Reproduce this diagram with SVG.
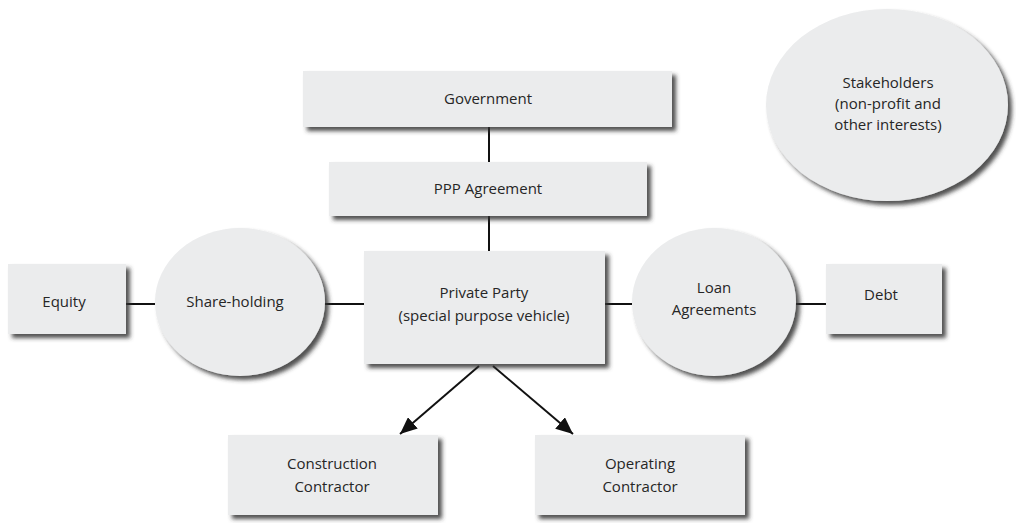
<svg xmlns="http://www.w3.org/2000/svg" width="1016" height="523" viewBox="0 0 1016 523">
<defs>
<filter id="sh" x="-10%" y="-10%" width="125%" height="130%">
<feDropShadow dx="4" dy="4" stdDeviation="2.2" flood-color="#333" flood-opacity="0.85"/>
</filter>
<marker id="ah" viewBox="0 0 17 15" refX="17" refY="7.5" markerWidth="17" markerHeight="15" markerUnits="userSpaceOnUse" orient="auto">
<path d="M0,0 L17,7.5 L0,15 z" fill="#111"/>
</marker>
</defs>
<style>
.n{fill:#ebeced;filter:url(#sh)}
.t{font-family:"Open Sans","Noto Sans","Liberation Sans",sans-serif;font-size:15px;fill:#262626;text-anchor:middle}
.c{stroke:#111;stroke-width:2;fill:none}
</style>
<rect width="1016" height="523" fill="#fff"/>
<g id="connectors">
<line class="c" x1="489" y1="127" x2="489" y2="162"/>
<line class="c" x1="489" y1="216" x2="489" y2="251"/>
<line class="c" x1="126" y1="304" x2="155" y2="304"/>
<line class="c" x1="324" y1="304" x2="364" y2="304"/>
<line class="c" x1="605" y1="304" x2="632" y2="304"/>
<line class="c" x1="796" y1="304" x2="826" y2="304"/>
<line class="c" x1="479" y1="366" x2="400" y2="434" marker-end="url(#ah)"/>
<line class="c" x1="493" y1="366" x2="573" y2="434" marker-end="url(#ah)"/>
</g>
<g id="government">
<rect class="n" x="303" y="71" width="369" height="56"/>
<text class="t" x="488" y="104">Government</text>
</g>
<g id="ppp-agreement">
<rect class="n" x="329" y="162" width="318" height="54"/>
<text class="t" x="488" y="194">PPP Agreement</text>
</g>
<g id="private-party">
<rect class="n" x="364" y="251" width="241" height="113"/>
<text class="t" x="484" y="298">Private Party</text>
<text class="t" x="484" y="321">(special purpose vehicle)</text>
</g>
<g id="equity">
<rect class="n" x="8" y="264" width="118" height="70"/>
<text class="t" x="64" y="307">Equity</text>
</g>
<g id="share-holding">
<ellipse class="n" cx="240" cy="302" rx="85" ry="74"/>
<text class="t" x="235" y="307">Share-holding</text>
</g>
<g id="loan-agreements">
<ellipse class="n" cx="714" cy="302" rx="82" ry="74"/>
<text class="t" x="714" y="293">Loan</text>
<text class="t" x="714" y="315">Agreements</text>
</g>
<g id="debt">
<rect class="n" x="826" y="264" width="116" height="70"/>
<text class="t" x="881" y="300">Debt</text>
</g>
<g id="construction-contractor">
<rect class="n" x="228" y="435" width="210" height="80"/>
<text class="t" x="332" y="469">Construction</text>
<text class="t" x="332" y="492">Contractor</text>
</g>
<g id="operating-contractor">
<rect class="n" x="535" y="435" width="210" height="80"/>
<text class="t" x="640" y="469">Operating</text>
<text class="t" x="640" y="492">Contractor</text>
</g>
<g id="stakeholders">
<ellipse class="n" cx="887" cy="105" rx="121" ry="96"/>
<text class="t" x="888" y="88">Stakeholders</text>
<text class="t" x="888" y="109">(non-profit and</text>
<text class="t" x="888" y="130">other interests)</text>
</g>
</svg>
